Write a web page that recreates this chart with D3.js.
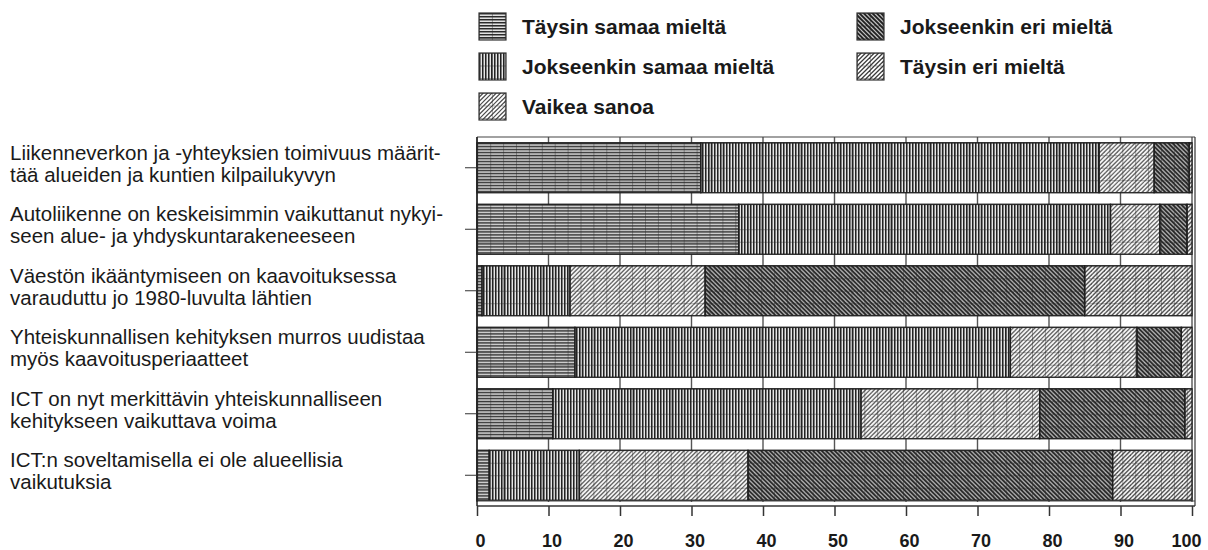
<!DOCTYPE html>
<html>
<head>
<meta charset="utf-8">
<script src="https://cdn.jsdelivr.net/npm/d3@7"></script>
<style>
  body { margin: 0; background: #fff; }
  svg { display: block; font-family: "Liberation Sans", Arial, sans-serif; }
</style>
</head>
<body>
<svg id="chart" width="1208" height="550"></svg>
<script>
'use strict';

// statements, each split over two lines as in the original
var statements = [
  ['Liikenneverkon ja -yhteyksien toimivuus määrit-', 'tää alueiden ja kuntien kilpailukyvyn'],
  ['Autoliikenne on keskeisimmin vaikuttanut nykyi-', 'seen alue- ja yhdyskuntarakeneeseen'],
  ['Väestön ikääntymiseen on kaavoituksessa', 'varauduttu jo 1980-luvulta lähtien'],
  ['Yhteiskunnallisen kehityksen murros uudistaa', 'myös kaavoitusperiaatteet'],
  ['ICT on nyt merkittävin yhteiskunnalliseen', 'kehitykseen vaikuttava voima'],
  ['ICT:n soveltamisella ei ole alueellisia', 'vaikutuksia']
];

var answers = ['Täysin samaa mieltä', 'Jokseenkin samaa mieltä', 'Vaikea sanoa',
  'Jokseenkin eri mieltä', 'Täysin eri mieltä'];

// percentages per answer, one value per statement
var taysinSamaa = [31.3, 36.6, 0.7, 13.7, 10.6, 1.7];
var jokseenkinSamaa = [55.7, 52.0, 12.3, 60.9, 43.1, 12.6];
var vaikeaSanoa = [7.7, 6.9, 18.9, 17.7, 25.0, 23.6];
var jokseenkinEri = [4.9, 3.8, 53.1, 6.2, 20.3, 51.0];
var taysinEri = [0.4, 0.7, 15.0, 1.5, 1.0, 11.1];

var xTicks = [0, 10, 20, 30, 40, 50, 60, 70, 80, 90, 100];

var table = statements.map(function (s, i) {
  var row = { id: i };
  row[answers[0]] = taysinSamaa[i];
  row[answers[1]] = jokseenkinSamaa[i];
  row[answers[2]] = vaikeaSanoa[i];
  row[answers[3]] = jokseenkinEri[i];
  row[answers[4]] = taysinEri[i];
  return row;
});

var svg = d3.select('#chart');
var plotLeft = 477, plotRight = 1192, plotTop = 137, plotBottom = 506;

var x = d3.scaleLinear().domain([0, 100]).range([plotLeft, plotRight]);
var y = d3.scaleBand()
  .domain(d3.range(statements.length))
  .range([plotTop, plotBottom])
  .paddingInner(0.187)
  .paddingOuter(0.0935);

// patterns
var defs = svg.append('defs');

var ph = defs.append('pattern').attr('id', 'p0')
  .attr('patternUnits', 'userSpaceOnUse').attr('width', 4).attr('height', 3);
ph.append('rect').attr('width', 4).attr('height', 3).attr('fill', '#e2e2e2');
ph.append('rect').attr('width', 4).attr('height', 1).attr('fill', '#2a2a2a');
ph.append('rect').attr('y', 1).attr('width', 4).attr('height', 1).attr('fill', '#8c8c8c');

var pv = defs.append('pattern').attr('id', 'p1')
  .attr('patternUnits', 'userSpaceOnUse').attr('width', 3).attr('height', 4);
pv.append('rect').attr('width', 3).attr('height', 4).attr('fill', '#e6e6e6');
pv.append('rect').attr('width', 1).attr('height', 4).attr('fill', '#222');
pv.append('rect').attr('x', 1).attr('width', 1).attr('height', 4).attr('fill', '#7e7e7e');

function diagonal(id, bg, stroke, sw, forward) {
  var p = defs.append('pattern').attr('id', id)
    .attr('patternUnits', 'userSpaceOnUse').attr('width', 13).attr('height', 13);
  p.append('rect').attr('width', 13).attr('height', 13).attr('fill', bg);
  for (var k = -3; k <= 3; k++) {
    var a = k * 13 / 3;
    p.append('line')
      .attr('x1', a).attr('y1', forward ? 13 : 0)
      .attr('x2', a + 13).attr('y2', forward ? 0 : 13)
      .attr('stroke', stroke).attr('stroke-width', sw);
  }
}
diagonal('p2', '#fff', '#4a4a4a', 1.2, true);
diagonal('p3', '#222', '#c4c4c4', 1.2, false);
diagonal('p4', '#fff', '#3a3a3a', 1.3, true);

var pg = defs.append('pattern').attr('id', 'grid')
  .attr('patternUnits', 'userSpaceOnUse').attr('width', 12.9).attr('height', 12.5);
pg.append('path').attr('d', 'M0,0V12.5M0,0H12.9')
  .attr('fill', 'none').attr('stroke', '#2a2a2a').attr('stroke-width', 0.8);

// frame and gridlines
svg.append('g').selectAll('line').data(xTicks).join('line')
  .attr('x1', function (d) { return x(d); }).attr('x2', function (d) { return x(d); })
  .attr('y1', plotTop).attr('y2', plotBottom - 4)
  .attr('stroke', '#555').attr('stroke-width', 1.4);

svg.append('line').attr('x1', plotLeft).attr('x2', plotRight + 3).attr('y1', plotTop).attr('y2', plotTop)
  .attr('stroke', '#444').attr('stroke-width', 1.2);
svg.append('line').attr('x1', plotRight + 3).attr('x2', plotRight + 3).attr('y1', plotTop).attr('y2', plotBottom)
  .attr('stroke', '#333').attr('stroke-width', 1.2);

// bars
var stack = d3.stack().keys(answers);
var layers = stack(table);

var rows = svg.append('g').selectAll('g').data(statements).join('g')
  .attr('transform', function (d, i) { return 'translate(0,' + y(i) + ')'; });

rows.each(function (d, i) {
  var g = d3.select(this);
  var segs = layers.map(function (layer, k) { return { k: k, v0: layer[i][0], v1: layer[i][1] }; });
  g.selectAll('rect.fill').data(segs).join('rect')
    .attr('class', 'fill')
    .attr('x', function (s) { return x(s.v0); })
    .attr('width', function (s) { return x(s.v1) - x(s.v0); })
    .attr('height', y.bandwidth())
    .attr('fill', function (s) { return 'url(#p' + s.k + ')'; });
  g.selectAll('rect.grid').data(segs).join('rect')
    .attr('class', 'grid')
    .attr('x', function (s) { return x(s.v0); })
    .attr('width', function (s) { return x(s.v1) - x(s.v0); })
    .attr('height', y.bandwidth())
    .attr('fill', 'url(#grid)')
    .attr('stroke', '#1e1e1e').attr('stroke-width', 1.3);
});

// bottom axis
var xAxis = svg.append('g').attr('transform', 'translate(0,' + plotBottom + ')');
xAxis.append('line').attr('x1', plotLeft).attr('x2', plotRight + 3).attr('y1', -5).attr('y2', -5)
  .attr('stroke', '#444').attr('stroke-width', 1.2);
xAxis.append('line').attr('x1', plotLeft).attr('x2', plotRight + 3).attr('y1', 0).attr('y2', 0)
  .attr('stroke', '#333').attr('stroke-width', 1.4);
xAxis.call(d3.axisBottom(x).tickValues(xTicks).tickSize(10).tickPadding(18))
  .call(function (g) { g.select('.domain').remove(); })
  .call(function (g) {
    g.selectAll('.tick line').attr('stroke', '#333').attr('stroke-width', 1.5);
    g.selectAll('.tick text')
      .attr('dx', function (d) { return d === 100 ? -6 : 3; })
      .attr('fill', '#1a1a1a')
      .style('font-size', '18px')
      .style('font-weight', 'bold')
      .style('font-family', '"Liberation Sans", Arial, sans-serif');
  });

// left axis (ticks only) and statement labels
var yAxis = svg.append('g').attr('transform', 'translate(' + plotLeft + ',0)');
yAxis.append('line').attr('x1', 0).attr('x2', 0).attr('y1', plotTop).attr('y2', plotBottom)
  .attr('stroke', '#222').attr('stroke-width', 1.5);
yAxis.selectAll('line.tk').data(statements).join('line')
  .attr('class', 'tk')
  .attr('x1', -12).attr('x2', 0)
  .attr('y1', function (d, i) { return y(i) + y.bandwidth() / 2; })
  .attr('y2', function (d, i) { return y(i) + y.bandwidth() / 2; })
  .attr('stroke', '#333').attr('stroke-width', 1);

var labels = svg.append('g').selectAll('text').data(statements).join('text')
  .attr('x', 10)
  .attr('y', function (d, i) { return y(i) + y.bandwidth() / 2 - 8; })
  .attr('fill', '#1a1a1a')
  .style('font-size', '20.5px');
labels.selectAll('tspan').data(function (d) { return d; }).join('tspan')
  .attr('x', 10)
  .attr('dy', function (d, j) { return j === 0 ? 0 : 22; })
  .text(function (d) { return d; });

// legend
var legendPos = [[479, 13], [479, 53], [479, 93], [857, 13], [857, 53]];
var legend = svg.append('g').selectAll('g').data(answers).join('g')
  .attr('transform', function (d, i) { return 'translate(' + legendPos[i][0] + ',' + legendPos[i][1] + ')'; });
legend.append('rect').attr('width', 27).attr('height', 27)
  .attr('fill', function (d, i) { return 'url(#p' + i + ')'; });
legend.append('rect').attr('width', 27).attr('height', 27)
  .attr('fill', 'url(#grid)').attr('stroke', '#333').attr('stroke-width', 1.2);
legend.append('text')
  .attr('x', 43).attr('y', 21)
  .attr('fill', '#1a1a1a')
  .style('font-size', '21px')
  .style('font-weight', 'bold')
  .text(function (d) { return d; });
</script>
</body>
</html>
